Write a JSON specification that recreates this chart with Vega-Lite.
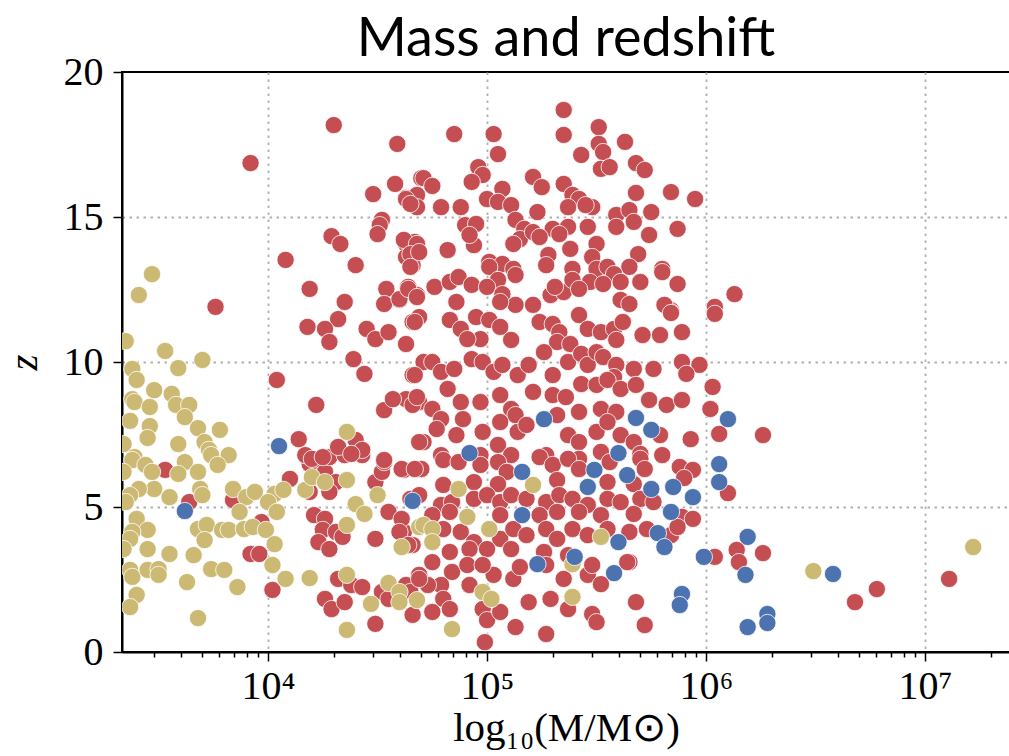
{
  "$schema": "https://vega.github.io/schema/vega-lite/v6.json",
  "width": 888,
  "height": 580,
  "autosize": "none",
  "padding": {"left": 122, "top": 72, "right": 0, "bottom": 104},
  "background": "white",
  "title": {"text": "Mass and redshift", "font": "Lato", "fontSize": 54, "fontWeight": "normal", "color": "black", "anchor": "middle", "offset": -15},
  "config": {
    "view": {"stroke": "black", "strokeWidth": 2},
    "axis": {
      "labelFont": "Liberation Serif", "labelFontSize": 40, "labelColor": "black",
      "titleFont": "Liberation Serif", "titleFontSize": 41, "titleFontWeight": "normal", "titleColor": "black",
      "domainColor": "black", "domainWidth": 2, "tickColor": "black", "tickWidth": 1.5,
      "gridColor": "#b0b0b0", "gridDash": [2.5, 4.5], "gridWidth": 1.8,
      "labelOverlap": false, "labelFlush": false
    }
  },
  "data": {"values": [
{"logM":4.30,"z":18.17,"group":"A"},{"logM":3.92,"z":16.86,"group":"A"},{"logM":4.59,"z":17.52,"group":"A"},{"logM":4.58,"z":16.14,"group":"A"},{"logM":4.48,"z":15.79,"group":"A"},{"logM":4.70,"z":16.34,"group":"A"},{"logM":4.63,"z":15.66,"group":"A"},{"logM":4.66,"z":15.45,"group":"A"},{"logM":4.68,"z":15.76,"group":"A"},{"logM":4.52,"z":14.90,"group":"A"},
{"logM":4.51,"z":14.72,"group":"A"},{"logM":4.50,"z":14.41,"group":"A"},{"logM":4.29,"z":14.34,"group":"A"},{"logM":4.33,"z":14.07,"group":"A"},{"logM":4.63,"z":14.07,"group":"A"},{"logM":4.67,"z":14.14,"group":"A"},{"logM":4.63,"z":13.62,"group":"A"},{"logM":4.66,"z":13.34,"group":"A"},{"logM":4.08,"z":13.52,"group":"A"},{"logM":4.40,"z":13.34,"group":"A"},
{"logM":4.85,"z":17.86,"group":"A"},{"logM":5.03,"z":17.86,"group":"A"},{"logM":5.05,"z":17.17,"group":"A"},{"logM":5.35,"z":18.69,"group":"A"},{"logM":5.35,"z":17.83,"group":"A"},{"logM":5.51,"z":18.10,"group":"A"},{"logM":5.51,"z":17.52,"group":"A"},{"logM":5.53,"z":17.24,"group":"A"},{"logM":5.52,"z":16.66,"group":"A"},{"logM":5.56,"z":16.72,"group":"A"},
{"logM":5.43,"z":17.14,"group":"A"},{"logM":5.63,"z":17.59,"group":"A"},{"logM":5.68,"z":16.86,"group":"A"},{"logM":5.72,"z":16.62,"group":"A"},{"logM":5.95,"z":15.62,"group":"A"},{"logM":5.84,"z":15.86,"group":"A"},{"logM":5.68,"z":15.83,"group":"A"},{"logM":4.96,"z":16.72,"group":"A"},{"logM":4.98,"z":16.45,"group":"A"},{"logM":4.93,"z":16.21,"group":"A"},
{"logM":5.21,"z":16.38,"group":"A"},{"logM":5.25,"z":16.03,"group":"A"},{"logM":4.71,"z":16.34,"group":"A"},{"logM":4.75,"z":16.07,"group":"A"},{"logM":4.63,"z":15.62,"group":"A"},{"logM":4.68,"z":15.34,"group":"A"},{"logM":4.65,"z":15.45,"group":"A"},{"logM":4.79,"z":15.34,"group":"A"},{"logM":4.88,"z":15.34,"group":"A"},{"logM":5.07,"z":15.97,"group":"A"},
{"logM":5.00,"z":15.62,"group":"A"},{"logM":5.05,"z":15.52,"group":"A"},{"logM":5.11,"z":15.41,"group":"A"},{"logM":5.35,"z":16.14,"group":"A"},{"logM":5.39,"z":15.76,"group":"A"},{"logM":5.42,"z":15.62,"group":"A"},{"logM":5.37,"z":15.34,"group":"A"},{"logM":5.48,"z":15.34,"group":"A"},{"logM":5.45,"z":15.41,"group":"A"},{"logM":5.59,"z":15.07,"group":"A"},
{"logM":5.65,"z":15.24,"group":"A"},{"logM":5.75,"z":15.17,"group":"A"},{"logM":5.59,"z":14.66,"group":"A"},{"logM":5.67,"z":14.83,"group":"A"},{"logM":4.90,"z":14.72,"group":"A"},{"logM":4.95,"z":14.76,"group":"A"},{"logM":4.94,"z":14.03,"group":"A"},{"logM":4.92,"z":14.38,"group":"A"},{"logM":5.13,"z":14.90,"group":"A"},{"logM":5.17,"z":14.59,"group":"A"},
{"logM":5.23,"z":15.17,"group":"A"},{"logM":5.15,"z":14.24,"group":"A"},{"logM":5.21,"z":14.48,"group":"A"},{"logM":5.30,"z":14.59,"group":"A"},{"logM":5.37,"z":14.66,"group":"A"},{"logM":5.33,"z":14.41,"group":"A"},{"logM":5.24,"z":14.31,"group":"A"},{"logM":5.46,"z":14.66,"group":"A"},{"logM":5.50,"z":14.07,"group":"A"},{"logM":5.48,"z":13.62,"group":"A"},
{"logM":5.50,"z":13.21,"group":"A"},{"logM":5.74,"z":14.38,"group":"A"},{"logM":5.69,"z":13.72,"group":"A"},{"logM":5.80,"z":13.21,"group":"A"},{"logM":5.65,"z":13.28,"group":"A"},{"logM":5.87,"z":14.59,"group":"A"},{"logM":4.62,"z":14.21,"group":"A"},{"logM":4.68,"z":14.07,"group":"A"},{"logM":4.65,"z":13.72,"group":"A"},{"logM":4.69,"z":13.79,"group":"A"},
{"logM":4.82,"z":13.86,"group":"A"},{"logM":5.12,"z":14.07,"group":"A"},{"logM":5.28,"z":13.69,"group":"A"},{"logM":5.38,"z":13.90,"group":"A"},{"logM":5.01,"z":13.45,"group":"A"},{"logM":5.07,"z":13.38,"group":"A"},{"logM":5.12,"z":13.21,"group":"A"},{"logM":5.39,"z":13.21,"group":"A"},{"logM":5.55,"z":13.28,"group":"A"},{"logM":4.65,"z":13.28,"group":"A"},
{"logM":5.01,"z":13.28,"group":"A"},{"logM":5.13,"z":13.00,"group":"A"},{"logM":5.05,"z":12.83,"group":"A"},{"logM":5.27,"z":13.34,"group":"A"},{"logM":5.58,"z":13.03,"group":"A"},{"logM":5.70,"z":12.76,"group":"A"},{"logM":5.80,"z":13.10,"group":"A"},{"logM":5.87,"z":12.69,"group":"A"},{"logM":5.47,"z":12.76,"group":"A"},{"logM":5.53,"z":12.69,"group":"A"},
{"logM":5.61,"z":12.76,"group":"A"},{"logM":4.64,"z":12.59,"group":"A"},{"logM":4.68,"z":12.31,"group":"A"},{"logM":4.60,"z":12.14,"group":"A"},{"logM":4.76,"z":12.59,"group":"A"},{"logM":4.83,"z":12.76,"group":"A"},{"logM":4.87,"z":12.93,"group":"A"},{"logM":4.93,"z":12.66,"group":"A"},{"logM":5.00,"z":12.59,"group":"A"},{"logM":4.86,"z":12.07,"group":"A"},
{"logM":5.07,"z":12.34,"group":"A"},{"logM":5.13,"z":11.97,"group":"A"},{"logM":5.06,"z":12.07,"group":"A"},{"logM":5.21,"z":11.97,"group":"A"},{"logM":5.29,"z":12.31,"group":"A"},{"logM":5.35,"z":12.41,"group":"A"},{"logM":5.39,"z":12.83,"group":"A"},{"logM":5.42,"z":12.52,"group":"A"},{"logM":5.31,"z":12.59,"group":"A"},{"logM":5.61,"z":12.14,"group":"A"},
{"logM":5.65,"z":12.00,"group":"A"},{"logM":5.84,"z":11.79,"group":"A"},{"logM":4.66,"z":11.38,"group":"A"},{"logM":4.69,"z":11.55,"group":"A"},{"logM":4.63,"z":10.62,"group":"A"},{"logM":4.83,"z":11.45,"group":"A"},{"logM":4.88,"z":11.14,"group":"A"},{"logM":4.95,"z":11.55,"group":"A"},{"logM":5.01,"z":11.45,"group":"A"},{"logM":5.06,"z":11.21,"group":"A"},
{"logM":5.11,"z":10.76,"group":"A"},{"logM":4.97,"z":10.79,"group":"A"},{"logM":4.91,"z":10.79,"group":"A"},{"logM":5.24,"z":11.38,"group":"A"},{"logM":5.30,"z":11.31,"group":"A"},{"logM":5.33,"z":11.03,"group":"A"},{"logM":5.42,"z":11.62,"group":"A"},{"logM":5.32,"z":10.69,"group":"A"},{"logM":5.38,"z":10.62,"group":"A"},{"logM":5.46,"z":11.14,"group":"A"},
{"logM":5.52,"z":11.03,"group":"A"},{"logM":5.58,"z":11.14,"group":"A"},{"logM":5.62,"z":11.38,"group":"A"},{"logM":5.59,"z":10.76,"group":"A"},{"logM":5.71,"z":10.93,"group":"A"},{"logM":5.79,"z":10.93,"group":"A"},{"logM":5.89,"z":11.03,"group":"A"},{"logM":5.84,"z":11.72,"group":"A"},{"logM":5.81,"z":11.97,"group":"A"},{"logM":4.71,"z":10.00,"group":"A"},
{"logM":4.66,"z":9.55,"group":"A"},{"logM":4.75,"z":10.00,"group":"A"},{"logM":4.79,"z":9.66,"group":"A"},{"logM":4.85,"z":9.76,"group":"A"},{"logM":4.93,"z":10.10,"group":"A"},{"logM":4.98,"z":10.00,"group":"A"},{"logM":5.03,"z":9.66,"group":"A"},{"logM":5.07,"z":9.90,"group":"A"},{"logM":5.14,"z":9.55,"group":"A"},{"logM":5.19,"z":9.90,"group":"A"},
{"logM":5.26,"z":10.34,"group":"A"},{"logM":5.30,"z":9.55,"group":"A"},{"logM":5.37,"z":10.00,"group":"A"},{"logM":5.43,"z":10.28,"group":"A"},{"logM":5.46,"z":9.90,"group":"A"},{"logM":5.50,"z":10.34,"group":"A"},{"logM":5.53,"z":10.17,"group":"A"},{"logM":5.59,"z":9.90,"group":"A"},{"logM":5.67,"z":9.76,"group":"A"},{"logM":5.76,"z":9.76,"group":"A"},
{"logM":5.89,"z":10.00,"group":"A"},{"logM":5.97,"z":9.90,"group":"A"},{"logM":5.91,"z":9.59,"group":"A"},{"logM":5.58,"z":9.48,"group":"A"},{"logM":4.63,"z":8.72,"group":"A"},{"logM":4.69,"z":8.62,"group":"A"},{"logM":4.75,"z":8.38,"group":"A"},{"logM":4.82,"z":9.07,"group":"A"},{"logM":4.88,"z":8.62,"group":"A"},{"logM":4.97,"z":8.62,"group":"A"},
{"logM":5.06,"z":8.86,"group":"A"},{"logM":5.11,"z":8.38,"group":"A"},{"logM":5.21,"z":8.97,"group":"A"},{"logM":5.30,"z":8.86,"group":"A"},{"logM":5.36,"z":8.79,"group":"A"},{"logM":5.43,"z":9.24,"group":"A"},{"logM":5.50,"z":9.21,"group":"A"},{"logM":5.55,"z":9.38,"group":"A"},{"logM":5.61,"z":9.07,"group":"A"},{"logM":5.68,"z":9.21,"group":"A"},
{"logM":5.74,"z":8.69,"group":"A"},{"logM":5.82,"z":8.52,"group":"A"},{"logM":5.89,"z":8.69,"group":"A"},{"logM":6.03,"z":9.14,"group":"A"},{"logM":6.02,"z":8.38,"group":"A"},{"logM":4.89,"z":8.03,"group":"A"},{"logM":4.79,"z":8.03,"group":"A"},{"logM":5.13,"z":8.17,"group":"A"},{"logM":5.32,"z":8.17,"group":"A"},{"logM":5.42,"z":8.28,"group":"A"},
{"logM":5.52,"z":8.38,"group":"A"},{"logM":5.59,"z":8.28,"group":"A"},{"logM":4.71,"z":7.24,"group":"A"},{"logM":4.77,"z":7.69,"group":"A"},{"logM":4.86,"z":7.48,"group":"A"},{"logM":4.98,"z":7.59,"group":"A"},{"logM":5.05,"z":7.14,"group":"A"},{"logM":5.06,"z":7.93,"group":"A"},{"logM":5.14,"z":7.59,"group":"A"},{"logM":5.18,"z":7.83,"group":"A"},
{"logM":5.37,"z":7.48,"group":"A"},{"logM":5.42,"z":7.24,"group":"A"},{"logM":5.50,"z":7.59,"group":"A"},{"logM":5.55,"z":7.93,"group":"A"},{"logM":5.61,"z":7.48,"group":"A"},{"logM":5.67,"z":7.24,"group":"A"},{"logM":5.79,"z":7.48,"group":"A"},{"logM":5.93,"z":7.34,"group":"A"},{"logM":6.06,"z":7.52,"group":"A"},{"logM":4.79,"z":6.79,"group":"A"},
{"logM":4.97,"z":6.79,"group":"A"},{"logM":5.11,"z":6.79,"group":"A"},{"logM":5.27,"z":6.79,"group":"A"},{"logM":5.42,"z":6.66,"group":"A"},{"logM":5.52,"z":6.90,"group":"A"},{"logM":5.70,"z":6.83,"group":"A"},{"logM":5.80,"z":6.79,"group":"A"},{"logM":4.62,"z":6.28,"group":"A"},{"logM":4.70,"z":6.31,"group":"A"},{"logM":4.80,"z":6.62,"group":"A"},
{"logM":4.87,"z":6.55,"group":"A"},{"logM":4.97,"z":6.45,"group":"A"},{"logM":5.05,"z":6.55,"group":"A"},{"logM":5.09,"z":6.21,"group":"A"},{"logM":5.24,"z":6.72,"group":"A"},{"logM":5.30,"z":6.45,"group":"A"},{"logM":5.37,"z":6.66,"group":"A"},{"logM":5.42,"z":6.31,"group":"A"},{"logM":5.56,"z":6.55,"group":"A"},{"logM":5.70,"z":6.66,"group":"A"},
{"logM":5.72,"z":6.31,"group":"A"},{"logM":5.88,"z":6.38,"group":"A"},{"logM":5.94,"z":6.28,"group":"A"},{"logM":4.80,"z":5.76,"group":"A"},{"logM":4.94,"z":5.86,"group":"A"},{"logM":5.05,"z":5.79,"group":"A"},{"logM":5.32,"z":5.93,"group":"A"},{"logM":5.55,"z":5.86,"group":"A"},{"logM":5.67,"z":5.79,"group":"A"},{"logM":4.65,"z":5.28,"group":"A"},
{"logM":4.69,"z":5.41,"group":"A"},{"logM":4.79,"z":5.07,"group":"A"},{"logM":4.84,"z":5.17,"group":"A"},{"logM":4.94,"z":5.28,"group":"A"},{"logM":5.00,"z":5.41,"group":"A"},{"logM":5.06,"z":5.17,"group":"A"},{"logM":5.11,"z":5.41,"group":"A"},{"logM":5.18,"z":5.28,"group":"A"},{"logM":5.27,"z":5.17,"group":"A"},{"logM":5.33,"z":5.41,"group":"A"},
{"logM":5.39,"z":5.28,"group":"A"},{"logM":5.46,"z":5.07,"group":"A"},{"logM":5.55,"z":5.28,"group":"A"},{"logM":5.61,"z":5.17,"group":"A"},{"logM":5.70,"z":5.28,"group":"A"},{"logM":5.76,"z":5.17,"group":"A"},{"logM":5.89,"z":4.66,"group":"A"},{"logM":5.94,"z":4.59,"group":"A"},{"logM":4.75,"z":4.72,"group":"A"},{"logM":4.83,"z":4.83,"group":"A"},
{"logM":5.06,"z":4.72,"group":"A"},{"logM":5.24,"z":4.72,"group":"A"},{"logM":5.32,"z":4.83,"group":"A"},{"logM":5.42,"z":4.83,"group":"A"},{"logM":5.52,"z":4.72,"group":"A"},{"logM":5.67,"z":4.76,"group":"A"},{"logM":4.62,"z":4.14,"group":"A"},{"logM":4.66,"z":3.69,"group":"A"},{"logM":4.80,"z":4.24,"group":"A"},{"logM":4.88,"z":4.14,"group":"A"},
{"logM":4.94,"z":3.79,"group":"A"},{"logM":5.06,"z":3.90,"group":"A"},{"logM":5.12,"z":4.24,"group":"A"},{"logM":5.18,"z":4.03,"group":"A"},{"logM":5.27,"z":4.24,"group":"A"},{"logM":5.32,"z":3.90,"group":"A"},{"logM":5.39,"z":4.24,"group":"A"},{"logM":5.46,"z":4.03,"group":"A"},{"logM":5.55,"z":4.24,"group":"A"},{"logM":5.65,"z":4.14,"group":"A"},
{"logM":5.73,"z":4.24,"group":"A"},{"logM":5.84,"z":4.03,"group":"A"},{"logM":4.83,"z":3.45,"group":"A"},{"logM":4.92,"z":3.55,"group":"A"},{"logM":5.00,"z":3.55,"group":"A"},{"logM":5.11,"z":3.55,"group":"A"},{"logM":5.26,"z":3.45,"group":"A"},{"logM":5.37,"z":3.34,"group":"A"},{"logM":5.65,"z":3.10,"group":"A"},{"logM":4.75,"z":3.10,"group":"A"},
{"logM":4.69,"z":2.66,"group":"A"},{"logM":4.63,"z":2.31,"group":"A"},{"logM":4.84,"z":2.76,"group":"A"},{"logM":4.91,"z":3.00,"group":"A"},{"logM":5.03,"z":2.66,"group":"A"},{"logM":5.12,"z":2.52,"group":"A"},{"logM":5.15,"z":2.93,"group":"A"},{"logM":5.27,"z":3.00,"group":"A"},{"logM":5.35,"z":2.52,"group":"A"},{"logM":5.46,"z":2.66,"group":"A"},
{"logM":5.48,"z":3.00,"group":"A"},{"logM":5.52,"z":2.34,"group":"A"},{"logM":5.64,"z":3.10,"group":"A"},{"logM":4.98,"z":3.00,"group":"A"},{"logM":4.79,"z":2.31,"group":"A"},{"logM":4.65,"z":2.07,"group":"A"},{"logM":4.73,"z":2.31,"group":"A"},{"logM":4.80,"z":1.83,"group":"A"},{"logM":4.83,"z":1.48,"group":"A"},{"logM":4.75,"z":1.38,"group":"A"},
{"logM":4.66,"z":1.28,"group":"A"},{"logM":4.92,"z":2.31,"group":"A"},{"logM":4.98,"z":1.48,"group":"A"},{"logM":5.00,"z":1.10,"group":"A"},{"logM":5.06,"z":1.38,"group":"A"},{"logM":5.13,"z":0.86,"group":"A"},{"logM":5.19,"z":1.72,"group":"A"},{"logM":5.29,"z":1.83,"group":"A"},{"logM":5.37,"z":1.48,"group":"A"},{"logM":5.48,"z":1.31,"group":"A"},
{"logM":5.50,"z":1.03,"group":"A"},{"logM":5.68,"z":1.72,"group":"A"},{"logM":5.72,"z":0.93,"group":"A"},{"logM":5.27,"z":0.62,"group":"A"},{"logM":4.99,"z":0.34,"group":"A"},{"logM":3.53,"z":6.28,"group":"A"},{"logM":3.64,"z":5.17,"group":"A"},{"logM":3.84,"z":5.24,"group":"A"},{"logM":3.97,"z":4.48,"group":"A"},{"logM":3.92,"z":3.38,"group":"A"},
{"logM":3.96,"z":3.38,"group":"A"},{"logM":4.02,"z":2.14,"group":"A"},{"logM":4.10,"z":5.97,"group":"A"},{"logM":4.19,"z":6.48,"group":"A"},{"logM":4.23,"z":6.66,"group":"A"},{"logM":4.26,"z":6.21,"group":"A"},{"logM":4.31,"z":5.86,"group":"A"},{"logM":4.19,"z":5.52,"group":"A"},{"logM":4.28,"z":5.52,"group":"A"},{"logM":4.21,"z":4.72,"group":"A"},
{"logM":4.26,"z":4.59,"group":"A"},{"logM":4.25,"z":4.21,"group":"A"},{"logM":4.31,"z":4.14,"group":"A"},{"logM":4.23,"z":3.79,"group":"A"},{"logM":4.28,"z":3.55,"group":"A"},{"logM":4.34,"z":3.97,"group":"A"},{"logM":4.32,"z":2.52,"group":"A"},{"logM":4.38,"z":2.31,"group":"A"},{"logM":4.43,"z":2.24,"group":"A"},{"logM":4.26,"z":1.83,"group":"A"},
{"logM":4.29,"z":1.48,"group":"A"},{"logM":4.35,"z":1.72,"group":"A"},{"logM":4.49,"z":3.90,"group":"A"},{"logM":4.49,"z":5.86,"group":"A"},{"logM":4.52,"z":6.21,"group":"A"},{"logM":4.53,"z":6.55,"group":"A"},{"logM":4.61,"z":6.31,"group":"A"},{"logM":4.67,"z":6.31,"group":"A"},{"logM":4.55,"z":4.83,"group":"A"},{"logM":4.61,"z":4.59,"group":"A"},
{"logM":4.60,"z":4.14,"group":"A"},{"logM":4.64,"z":3.69,"group":"A"},{"logM":4.52,"z":2.07,"group":"A"},{"logM":4.55,"z":1.83,"group":"A"},{"logM":4.69,"z":2.52,"group":"A"},{"logM":4.49,"z":0.97,"group":"A"},{"logM":4.17,"z":6.79,"group":"A"},{"logM":4.28,"z":6.72,"group":"A"},{"logM":4.35,"z":6.79,"group":"A"},{"logM":4.43,"z":6.79,"group":"A"},
{"logM":3.76,"z":11.90,"group":"A"},{"logM":4.19,"z":12.52,"group":"A"},{"logM":4.35,"z":12.07,"group":"A"},{"logM":4.32,"z":11.48,"group":"A"},{"logM":4.26,"z":11.14,"group":"A"},{"logM":4.18,"z":11.21,"group":"A"},{"logM":4.28,"z":10.69,"group":"A"},{"logM":4.45,"z":11.14,"group":"A"},{"logM":4.49,"z":10.79,"group":"A"},{"logM":4.55,"z":11.03,"group":"A"},
{"logM":4.67,"z":11.38,"group":"A"},{"logM":4.54,"z":12.52,"group":"A"},{"logM":4.53,"z":12.00,"group":"A"},{"logM":4.60,"z":12.17,"group":"A"},{"logM":4.64,"z":12.52,"group":"A"},{"logM":4.68,"z":12.24,"group":"A"},{"logM":4.39,"z":10.10,"group":"A"},{"logM":4.44,"z":9.59,"group":"A"},{"logM":4.04,"z":9.38,"group":"A"},{"logM":4.22,"z":8.52,"group":"A"},
{"logM":4.53,"z":8.34,"group":"A"},{"logM":4.57,"z":8.72,"group":"A"},{"logM":4.66,"z":8.52,"group":"A"},{"logM":4.68,"z":8.79,"group":"A"},{"logM":4.67,"z":9.55,"group":"A"},{"logM":4.14,"z":7.34,"group":"A"},{"logM":4.32,"z":7.07,"group":"A"},{"logM":4.40,"z":7.31,"group":"A"},{"logM":4.43,"z":6.97,"group":"A"},{"logM":4.38,"z":6.83,"group":"A"},
{"logM":4.69,"z":7.24,"group":"A"},{"logM":4.53,"z":6.62,"group":"A"},{"logM":4.20,"z":6.66,"group":"A"},{"logM":4.25,"z":6.72,"group":"A"},{"logM":6.13,"z":12.34,"group":"A"},{"logM":6.04,"z":11.90,"group":"A"},{"logM":6.04,"z":11.66,"group":"A"},{"logM":6.26,"z":7.48,"group":"A"},{"logM":6.10,"z":5.48,"group":"A"},{"logM":5.90,"z":6.00,"group":"A"},
{"logM":5.87,"z":4.31,"group":"A"},{"logM":6.14,"z":3.52,"group":"A"},{"logM":6.15,"z":3.10,"group":"A"},{"logM":6.26,"z":3.41,"group":"A"},{"logM":6.04,"z":3.28,"group":"A"},{"logM":6.78,"z":2.17,"group":"A"},{"logM":6.68,"z":1.72,"group":"A"},{"logM":7.11,"z":2.52,"group":"A"},{"logM":5.84,"z":11.69,"group":"A"},
{"logM":3.47,"z":13.03,"group":"B"},{"logM":3.41,"z":12.31,"group":"B"},{"logM":3.35,"z":10.72,"group":"B"},{"logM":3.53,"z":10.38,"group":"B"},{"logM":3.70,"z":10.07,"group":"B"},{"logM":3.59,"z":9.79,"group":"B"},{"logM":3.38,"z":9.76,"group":"B"},{"logM":3.40,"z":9.38,"group":"B"},{"logM":3.48,"z":9.03,"group":"B"},{"logM":3.38,"z":8.72,"group":"B"},
{"logM":3.39,"z":8.62,"group":"B"},{"logM":3.46,"z":8.45,"group":"B"},{"logM":3.56,"z":8.90,"group":"B"},{"logM":3.58,"z":8.52,"group":"B"},{"logM":3.64,"z":8.52,"group":"B"},{"logM":3.62,"z":8.10,"group":"B"},{"logM":3.37,"z":7.97,"group":"B"},{"logM":3.46,"z":7.79,"group":"B"},{"logM":3.45,"z":7.38,"group":"B"},{"logM":3.68,"z":7.72,"group":"B"},
{"logM":3.78,"z":7.66,"group":"B"},{"logM":3.71,"z":7.24,"group":"B"},{"logM":3.59,"z":7.17,"group":"B"},{"logM":3.73,"z":6.97,"group":"B"},{"logM":3.82,"z":6.79,"group":"B"},{"logM":3.39,"z":6.72,"group":"B"},{"logM":3.34,"z":7.17,"group":"B"},{"logM":4.36,"z":7.59,"group":"B"},{"logM":3.38,"z":6.62,"group":"B"},{"logM":3.44,"z":6.45,"group":"B"},
{"logM":3.47,"z":6.21,"group":"B"},{"logM":3.62,"z":6.55,"group":"B"},{"logM":3.59,"z":6.14,"group":"B"},{"logM":3.68,"z":6.21,"group":"B"},{"logM":3.74,"z":6.79,"group":"B"},{"logM":3.77,"z":6.45,"group":"B"},{"logM":3.48,"z":5.62,"group":"B"},{"logM":3.41,"z":5.62,"group":"B"},{"logM":3.37,"z":5.41,"group":"B"},{"logM":3.55,"z":5.34,"group":"B"},
{"logM":3.69,"z":5.62,"group":"B"},{"logM":3.70,"z":5.41,"group":"B"},{"logM":3.84,"z":5.62,"group":"B"},{"logM":3.90,"z":5.34,"group":"B"},{"logM":3.94,"z":5.52,"group":"B"},{"logM":4.03,"z":5.45,"group":"B"},{"logM":4.07,"z":5.59,"group":"B"},{"logM":4.00,"z":5.17,"group":"B"},{"logM":3.87,"z":4.83,"group":"B"},{"logM":4.04,"z":4.83,"group":"B"},
{"logM":3.40,"z":4.59,"group":"B"},{"logM":3.45,"z":4.21,"group":"B"},{"logM":3.38,"z":4.14,"group":"B"},{"logM":3.37,"z":3.90,"group":"B"},{"logM":3.68,"z":4.24,"group":"B"},{"logM":3.72,"z":4.38,"group":"B"},{"logM":3.71,"z":3.86,"group":"B"},{"logM":3.79,"z":4.21,"group":"B"},{"logM":3.82,"z":4.21,"group":"B"},{"logM":3.89,"z":4.24,"group":"B"},
{"logM":3.93,"z":4.31,"group":"B"},{"logM":3.99,"z":4.21,"group":"B"},{"logM":4.03,"z":3.72,"group":"B"},{"logM":3.45,"z":3.55,"group":"B"},{"logM":3.55,"z":3.38,"group":"B"},{"logM":3.66,"z":3.34,"group":"B"},{"logM":4.02,"z":3.00,"group":"B"},{"logM":3.37,"z":2.83,"group":"B"},{"logM":3.38,"z":2.59,"group":"B"},{"logM":3.45,"z":2.83,"group":"B"},
{"logM":3.50,"z":2.86,"group":"B"},{"logM":3.50,"z":2.66,"group":"B"},{"logM":3.74,"z":2.86,"group":"B"},{"logM":3.80,"z":2.83,"group":"B"},{"logM":4.08,"z":2.52,"group":"B"},{"logM":4.19,"z":2.55,"group":"B"},{"logM":3.63,"z":2.41,"group":"B"},{"logM":3.86,"z":2.24,"group":"B"},{"logM":3.40,"z":1.97,"group":"B"},{"logM":3.37,"z":1.55,"group":"B"},
{"logM":3.68,"z":1.17,"group":"B"},{"logM":4.17,"z":5.59,"group":"B"},{"logM":4.20,"z":6.03,"group":"B"},{"logM":4.26,"z":5.86,"group":"B"},{"logM":4.36,"z":5.93,"group":"B"},{"logM":4.40,"z":5.10,"group":"B"},{"logM":4.44,"z":4.76,"group":"B"},{"logM":4.50,"z":5.41,"group":"B"},{"logM":4.36,"z":4.38,"group":"B"},{"logM":4.61,"z":3.62,"group":"B"},
{"logM":4.69,"z":4.31,"group":"B"},{"logM":4.36,"z":2.66,"group":"B"},{"logM":4.55,"z":2.38,"group":"B"},{"logM":4.60,"z":2.07,"group":"B"},{"logM":4.60,"z":1.72,"group":"B"},{"logM":4.68,"z":1.79,"group":"B"},{"logM":4.47,"z":1.66,"group":"B"},{"logM":4.36,"z":0.76,"group":"B"},{"logM":4.87,"z":5.62,"group":"B"},{"logM":5.21,"z":5.76,"group":"B"},
{"logM":4.91,"z":4.66,"group":"B"},{"logM":4.71,"z":4.38,"group":"B"},{"logM":4.75,"z":4.24,"group":"B"},{"logM":5.01,"z":4.24,"group":"B"},{"logM":4.75,"z":3.79,"group":"B"},{"logM":5.52,"z":3.97,"group":"B"},{"logM":5.39,"z":3.03,"group":"B"},{"logM":4.98,"z":2.07,"group":"B"},{"logM":5.02,"z":1.83,"group":"B"},{"logM":5.39,"z":1.90,"group":"B"},
{"logM":4.84,"z":0.79,"group":"B"},{"logM":6.49,"z":2.79,"group":"B"},{"logM":7.22,"z":3.62,"group":"B"},{"logM":3.34,"z":6.21,"group":"B"},{"logM":3.35,"z":5.17,"group":"B"},{"logM":3.34,"z":3.55,"group":"B"},
{"logM":4.05,"z":7.10,"group":"C"},{"logM":3.62,"z":4.86,"group":"C"},{"logM":4.66,"z":5.21,"group":"C"},{"logM":4.92,"z":6.86,"group":"C"},{"logM":5.26,"z":8.03,"group":"C"},{"logM":5.68,"z":8.07,"group":"C"},{"logM":5.75,"z":7.66,"group":"C"},{"logM":5.60,"z":6.86,"group":"C"},{"logM":6.10,"z":8.03,"group":"C"},{"logM":5.16,"z":6.21,"group":"C"},
{"logM":5.49,"z":6.28,"group":"C"},{"logM":5.46,"z":5.69,"group":"C"},{"logM":5.64,"z":6.10,"group":"C"},{"logM":5.75,"z":5.62,"group":"C"},{"logM":5.85,"z":5.69,"group":"C"},{"logM":5.94,"z":5.34,"group":"C"},{"logM":5.84,"z":4.83,"group":"C"},{"logM":5.16,"z":4.72,"group":"C"},{"logM":5.60,"z":3.79,"group":"C"},{"logM":5.78,"z":4.10,"group":"C"},
{"logM":5.81,"z":3.62,"group":"C"},{"logM":5.40,"z":3.28,"group":"C"},{"logM":5.23,"z":3.03,"group":"C"},{"logM":5.58,"z":2.72,"group":"C"},{"logM":5.99,"z":3.28,"group":"C"},{"logM":6.06,"z":6.48,"group":"C"},{"logM":6.06,"z":5.86,"group":"C"},{"logM":5.89,"z":2.00,"group":"C"},{"logM":5.88,"z":1.62,"group":"C"},{"logM":6.19,"z":3.97,"group":"C"},
{"logM":6.18,"z":2.66,"group":"C"},{"logM":6.58,"z":2.69,"group":"C"},{"logM":6.28,"z":1.31,"group":"C"},{"logM":6.28,"z":1.00,"group":"C"},{"logM":6.19,"z":0.86,"group":"C"}
  ]},
  "mark": {"type": "circle", "size": 300, "opacity": 1, "stroke": "white", "strokeWidth": 0.8, "clip": true},
  "encoding": {
    "x": {
      "field": "logM", "type": "quantitative",
      "scale": {"domain": [3.333, 7.388], "nice": false, "zero": false},
      "axis": {
        "values": [3.477,3.602,3.699,3.778,3.845,3.903,3.954,4,4.301,4.477,4.602,4.699,4.778,4.845,4.903,4.954,5,5.301,5.477,5.602,5.699,5.778,5.845,5.903,5.954,6,6.301,6.477,6.602,6.699,6.778,6.845,6.903,6.954,7,7.301],
        "labelExpr": "datum.value == 4 ? '10⁴' : datum.value == 5 ? '10⁵' : datum.value == 6 ? '10⁶' : datum.value == 7 ? '10⁷' : ''",
        "grid": true,
        "gridOpacity": {"condition": {"test": "datum.value % 1 == 0", "value": 1}, "value": 0},
        "tickSize": {"condition": {"test": "datum.value % 1 == 0", "value": 9}, "value": 5},
        "labelPadding": 5,
        "title": "log₁₀(M/M⊙)",
        "titlePadding": 2
      }
    },
    "y": {
      "field": "z", "type": "quantitative",
      "scale": {"domain": [0, 20], "nice": false},
      "axis": {
        "values": [0, 5, 10, 15, 20],
        "grid": true,
        "gridOpacity": {"condition": {"test": "datum.value > 0 && datum.value < 20", "value": 1}, "value": 0},
        "tickSize": 9,
        "labelPadding": 10,
        "title": "z",
        "titleFontStyle": "italic",
        "titlePadding": 18
      }
    },
    "color": {
      "field": "group", "type": "nominal",
      "scale": {"domain": ["A", "B", "C"], "range": ["#c44e52", "#ccb974", "#4c72b0"]},
      "legend": null
    }
  }
}
